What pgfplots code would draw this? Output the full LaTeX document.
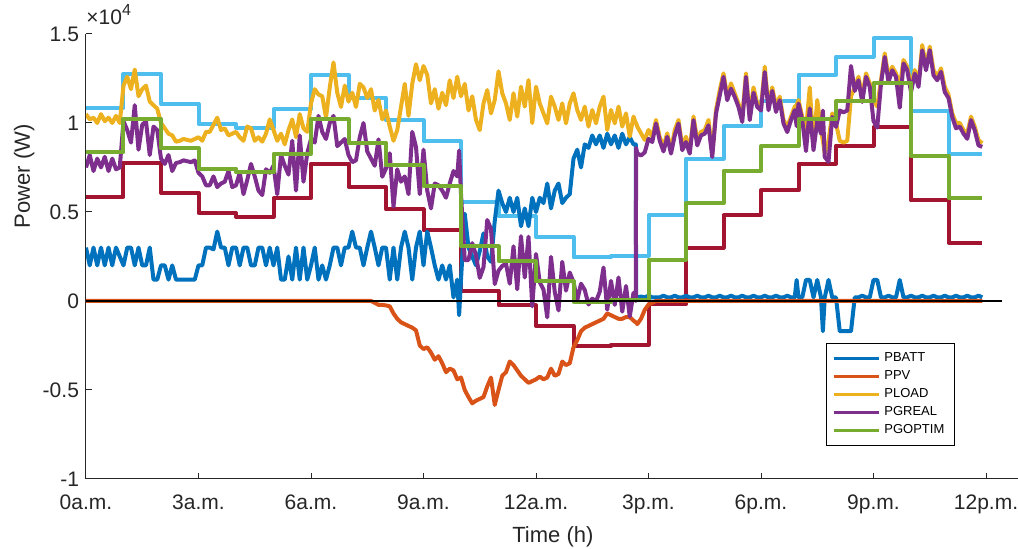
\documentclass[border=0pt]{standalone}
\usepackage{fontspec}
\setmainfont{Liberation Sans}
\usepackage{pgfplots}
\pgfplotsset{compat=1.18}
\usepackage{pgfplotstable}

\definecolor{cBatt}{RGB}{0,114,189}
\definecolor{cPV}{RGB}{217,83,25}
\definecolor{cLoad}{RGB}{237,177,32}
\definecolor{cGreal}{RGB}{126,47,142}
\definecolor{cGopt}{RGB}{119,172,48}
\definecolor{cLB}{RGB}{77,190,238}
\definecolor{cRed}{RGB}{162,20,47}
\definecolor{axisgray}{RGB}{38,38,38}

\pgfplotstableread{
h batt pv load greal
0.0 0.30 0 1.05 0.75
0.1 0.20 0 1.02 0.82
0.2 0.30 0 1.03 0.73
0.3 0.20 0 1.00 0.80
0.4 0.30 0 1.05 0.75
0.5 0.20 0 1.01 0.81
0.6 0.30 0 1.03 0.73
0.7 0.20 0 1.00 0.80
0.8 0.30 0 1.04 0.74
0.9 0.25 0 1.00 0.75
1.0 0.20 0 1.21 1.01
1.1 0.30 0 1.26 0.96
1.2 0.30 0 1.19 0.89
1.3 0.20 0 1.30 1.10
1.4 0.30 0 1.15 0.85
1.5 0.20 0 1.19 0.99
1.6 0.20 0 1.21 1.01
1.7 0.30 0 1.12 0.82
1.8 0.12 0 1.10 0.98
1.9 0.12 0 1.08 0.96
2.0 0.20 0 1.00 0.80
2.1 0.20 0 0.97 0.77
2.2 0.12 0 0.94 0.82
2.3 0.20 0 0.93 0.73
2.4 0.12 0 0.895 0.775
2.5 0.12 0 0.90 0.78
2.6 0.12 0 0.91 0.79
2.7 0.12 0 0.905 0.785
2.8 0.12 0 0.90 0.78
2.9 0.12 0 0.91 0.79
3.0 0.20 0 0.92 0.72
3.1 0.20 0 0.90 0.70
3.2 0.30 0 0.95 0.65
3.3 0.30 0 0.95 0.65
3.4 0.29 0 0.99 0.70
3.5 0.39 0 1.03 0.64
3.6 0.30 0 0.96 0.66
3.7 0.30 0 0.97 0.67
3.8 0.20 0 0.93 0.73
3.9 0.30 0 0.94 0.64
4.0 0.30 0 0.95 0.65
4.1 0.20 0 0.92 0.72
4.2 0.30 0 0.90 0.60
4.3 0.30 0 0.98 0.68
4.4 0.20 0 0.97 0.77
4.5 0.20 0 0.90 0.70
4.6 0.30 0 0.92 0.62
4.7 0.30 0 0.895 0.595
4.8 0.20 0 0.94 0.74
4.9 0.30 0 1.02 0.72
5.0 0.20 0 0.96 0.76
5.1 0.30 0 0.90 0.60
5.2 0.12 0 0.94 0.82
5.3 0.12 0 0.88 0.76
5.4 0.25 0 0.96 0.71
5.5 0.12 0 1.02 0.90
5.6 0.30 0 0.92 0.62
5.7 0.12 0 1.05 0.93
5.8 0.30 0 0.97 0.67
5.9 0.12 0 0.95 0.83
6.0 0.20 0 1.11 0.91
6.1 0.30 0 1.19 0.89
6.2 0.12 0 1.16 1.04
6.3 0.20 0 1.15 0.95
6.4 0.12 0 1.03 0.91
6.5 0.20 0 1.20 1.00
6.6 0.30 0 1.34 1.04
6.7 0.30 0 1.17 0.87
6.8 0.20 0 1.09 0.89
6.9 0.30 0 1.21 0.91
7.0 0.30 0 1.12 0.82
7.1 0.39 0 1.17 0.78
7.2 0.30 0 1.09 0.79
7.3 0.30 0 1.22 0.92
7.4 0.20 0 1.20 1.00
7.5 0.30 0 1.14 0.84
7.6 0.39 0 1.19 0.80
7.7 0.30 -0.01 1.07 0.76
7.8 0.20 -0.022 1.13 0.908
7.9 0.30 -0.022 1.02 0.698
8.0 0.30 -0.025 1.07 0.745
8.1 0.12 -0.03 0.98 0.83
8.2 0.30 -0.07 0.90 0.53
8.3 0.12 -0.10 0.96 0.74
8.4 0.30 -0.12 1.09 0.67
8.5 0.39 -0.13 1.22 0.70
8.6 0.30 -0.14 1.04 0.60
8.7 0.12 -0.15 1.22 0.95
8.8 0.30 -0.165 1.33 0.865
8.9 0.39 -0.25 1.24 0.60
9.0 0.20 -0.27 1.32 0.85
9.1 0.39 -0.26 1.27 0.62
9.2 0.30 -0.29 1.11 0.52
9.3 0.20 -0.33 1.19 0.66
9.4 0.12 -0.31 1.08 0.65
9.5 0.20 -0.35 1.17 0.62
9.6 0.12 -0.40 1.10 0.58
9.7 0.20 -0.38 1.24 0.66
9.8 0.02 -0.39 1.14 0.73
9.9 0.12 -0.44 1.26 0.70
9.95 -0.08 -0.435 1.20 0.845
10.0 0.12 -0.43 1.15 0.60
10.1 0.49 -0.50 1.22 0.23
10.2 0.30 -0.54 1.07 0.23
10.3 0.25 -0.575 1.15 0.325
10.4 0.20 -0.56 1.017 0.257
10.5 0.28 -0.55 0.96 0.13
10.6 0.38 -0.54 1.11 0.19
10.7 0.25 -0.48 1.185 0.455
10.8 0.22 -0.43 1.054 0.404
10.9 0.45 -0.584 1.129 0.095
11.0 0.62 -0.50 1.29 0.17
11.1 0.55 -0.42 1.167 0.197
11.2 0.50 -0.40 1.11 0.21
11.3 0.58 -0.34 1.017 0.097
11.4 0.50 -0.36 1.167 0.307
11.5 0.58 -0.39 1.036 0.066
11.6 0.42 -0.42 1.204 0.364
11.7 0.52 -0.44 1.092 0.132
11.8 0.42 -0.46 1.241 0.361
11.9 0.58 -0.45 1.0 -0.03
12.0 0.50 -0.44 1.204 0.264
12.1 0.58 -0.425 1.11 0.105
12.2 0.55 -0.44 1.054 0.064
12.3 0.66 -0.43 0.998 -0.092
12.4 0.52 -0.38 1.148 0.248
12.5 0.62 -0.42 1.092 0.052
12.6 0.66 -0.41 1.017 -0.053
12.7 0.55 -0.34 1.11 0.22
12.8 0.58 -0.36 0.998 0.058
12.9 0.60 -0.35 1.11 0.16
13.0 0.80 -0.26 1.167 0.107
13.1 0.85 -0.22 1.073 0.003
13.2 0.75 -0.17 1.017 0.097
13.3 0.88 -0.15 1.092 0.062
13.4 0.86 -0.14 0.98 -0.02
13.5 0.93 -0.13 1.073 0.013
13.6 0.88 -0.12 0.998 -0.002
13.7 0.93 -0.11 1.092 0.052
13.8 0.86 -0.10 1.148 0.188
13.9 0.94 -0.07 0.961 -0.049
14.0 0.88 -0.08 1.073 0.113
14.1 0.93 -0.09 0.998 -0.022
14.2 0.86 -0.10 1.092 0.132
14.3 0.94 -0.10 0.98 -0.06
14.4 0.88 -0.09 1.054 0.084
14.5 0.92 -0.09 0.923 -0.087
14.6 0.88 -0.11 1.036 0.046
14.66 0.88 -0.12 1.0 0.0
14.67 0.02 -0.12 1.0 0.86
14.7 0.02 -0.13 0.98 0.83
14.8 0.025 -0.10 0.942 0.817
14.9 0.02 -0.05 0.905 0.835
15.0 0.03 -0.02 0.961 0.911
15.1 0.02 -0.01 0.923 0.893
15.2 0.02 0 1.017 0.997
15.3 0.02 0 0.92 0.90
15.4 0.03 0 0.87 0.84
15.5 0.02 0 0.942 0.922
15.6 0.02 0 0.848 0.828
15.7 0.03 0 0.96 0.93
15.8 0.02 0 1.017 0.997
15.9 0.02 0 0.867 0.847
16.0 0.03 0 0.923 0.893
16.1 0.02 0 0.848 0.828
16.2 0.02 0 1.036 1.016
16.3 0.03 0 0.904 0.874
16.4 0.02 0 0.95 0.93
16.5 0.02 0 0.96 0.94
16.6 0.03 0 1.017 0.987
16.7 0.02 0 0.829 0.809
16.8 0.02 0 1.073 1.053
16.9 0.03 0 1.185 1.155
17.0 0.02 0 1.279 1.259
17.1 0.02 0 1.148 1.128
17.2 0.03 0 1.223 1.193
17.3 0.02 0 1.166 1.146
17.4 0.02 0 1.11 1.09
17.5 0.03 0 1.036 1.006
17.6 0.02 0 1.279 1.259
17.7 0.02 0 1.036 1.016
17.8 0.03 0 1.20 1.17
17.9 0.02 0 1.11 1.09
18.0 0.02 0 1.09 1.07
18.1 0.03 0 1.316 1.286
18.2 0.02 0 1.092 1.072
18.3 0.02 0 1.20 1.18
18.4 0.03 0 1.092 1.062
18.5 0.02 0 1.148 1.128
18.6 0.02 0 1.017 0.997
18.7 0.03 0 0.979 0.949
18.8 0.02 0 1.036 1.016
18.9 0.02 0 1.092 1.072
18.95 0.118 0 1.10 0.982
19.0 0.02 0 1.129 1.109
19.1 0.02 0 1.036 1.016
19.2 0.118 0 0.96 0.842
19.3 0.118 0 1.20 1.082
19.4 0.02 0 0.867 0.847
19.5 0.118 0 1.129 1.011
19.6 0.02 0 0.96 0.94
19.65 -0.17 0 0.90 1.07
19.7 0.02 0 0.829 0.809
19.8 0.118 0 0.90 0.782
19.9 0.02 0 1.054 1.034
20.0 0.02 0 0.998 0.978
20.1 -0.17 0 0.90 1.07
20.2 -0.17 0 0.89 1.06
20.3 -0.17 0 0.90 1.07
20.4 -0.17 0 1.15 1.32
20.5 0.02 0 1.20 1.18
20.6 0.02 0 1.26 1.24
20.7 0.03 0 1.148 1.118
20.8 0.02 0 1.279 1.259
20.9 0.02 0 1.223 1.203
21.0 0.118 0 1.129 1.011
21.1 0.118 0 1.092 0.974
21.2 0.02 0 1.241 1.221
21.3 0.02 0 1.391 1.371
21.4 0.03 0 1.26 1.23
21.5 0.02 0 1.316 1.296
21.6 0.02 0 1.279 1.259
21.7 0.118 0 1.204 1.086
21.8 0.02 0 1.354 1.334
21.9 0.02 0 1.316 1.296
22.0 0.03 0 1.204 1.174
22.1 0.02 0 1.298 1.278
22.2 0.02 0 1.223 1.203
22.3 0.03 0 1.438 1.408
22.4 0.02 0 1.316 1.296
22.5 0.02 0 1.429 1.409
22.6 0.03 0 1.298 1.268
22.7 0.02 0 1.26 1.24
22.8 0.02 0 1.307 1.287
22.9 0.03 0 1.204 1.174
23.0 0.02 0 1.16 1.14
23.1 0.02 0 1.054 1.034
23.2 0.03 0 1.0 0.97
23.3 0.02 0 1.0 0.98
23.4 0.02 0 0.96 0.94
23.5 0.03 0 0.941 0.911
23.6 0.02 0 1.036 1.016
23.7 0.02 0 0.979 0.959
23.8 0.03 0 0.904 0.874
23.9 0.02 0 0.886 0.866
}\datatable

\begin{document}
\begin{tikzpicture}
\path[use as bounding box] (-43pt,-35pt) rectangle (466pt,239.5pt);
\begin{axis}[
  at={(0pt,0pt)}, anchor=south west, scale only axis,
  width=466.875pt, height=222.5pt,
  xmin=0, xmax=24.9, ymin=-1, ymax=1.5,
  axis x line*=bottom, axis y line*=left,
  axis line style={draw=axisgray, line width=0.5pt},
  tick align=inside, major tick length=3pt,
  tick style={draw=axisgray, line width=0.5pt},
  xtick={0,3,...,24},
  xticklabels={0a.m.,3a.m.,6a.m.,9a.m.,12a.m.,3p.m.,6p.m.,9p.m.,12p.m.},
  ytick={-1,-0.5,0,0.5,1,1.5},
  yticklabels={-1,-0.5,0,0.5,1,1.5},
  ticklabel style={font=\fontsize{10.5}{12}\selectfont, text=axisgray},
  xticklabel style={yshift=-4.5pt},
  xlabel={Time (h)}, ylabel={Power (W)},
  xlabel style={at={(axis description cs:0.5,0)}, anchor=base, yshift=-32pt, font=\fontsize{11}{13}\selectfont, text=axisgray},
  ylabel style={at={(axis description cs:-0.06,0.68)}, anchor=base, font=\fontsize{11}{13}\selectfont, text=axisgray},
  every axis plot/.append style={line join=round},
  legend style={at={(rel axis cs:0.7925,0.3056)}, anchor=north west,
    draw=black, line width=0.4pt, fill=white,
    font=\fontsize{6.5}{8}\selectfont, row sep=0pt,
    nodes={text height=4.9pt, text depth=1.4pt, inner ysep=1.35pt},
    inner xsep=3pt, inner ysep=3pt},
  legend cell align=left,
  legend image code/.code={\draw[#1, line width=1.5pt] (0pt,0pt) -- (22.5pt,0pt);},
]
\addplot[cLB, line width=2pt, const plot, forget plot] coordinates {
(0,1.086) (1,1.275) (2,1.107) (3,0.994) (4,0.973) (5,1.077) (6,1.272) (7,1.140)
(8,1.014) (9,0.896) (10,0.557) (11,0.475) (12,0.360) (13,0.245) (14,0.254)
(15,0.482) (16,0.800) (17,0.982) (18,1.121) (19,1.271) (20,1.373) (21,1.477)
(22,1.065) (23,0.828) (23.9,0.828)};
\addplot[cRed, line width=2pt, const plot, forget plot] coordinates {
(0,0.586) (1,0.775) (2,0.607) (3,0.494) (4,0.473) (5,0.577) (6,0.772) (7,0.640)
(8,0.514) (9,0.396) (10,0.057) (11,-0.025) (12,-0.140) (13,-0.255) (14,-0.246)
(15,-0.018) (16,0.300) (17,0.482) (18,0.621) (19,0.771) (20,0.873) (21,0.977)
(22,0.565) (23,0.328) (23.9,0.328)};
\addplot[cBatt, line width=2pt] table[x=h, y=batt] {\datatable};
\addlegendentry{PBATT}
\addplot[cPV, line width=2pt] table[x=h, y=pv] {\datatable};
\addlegendentry{PPV}
\addplot[cLoad, line width=2pt] table[x=h, y=load] {\datatable};
\addlegendentry{PLOAD}
\addplot[cGreal, line width=2pt] table[x=h, y=greal] {\datatable};
\addlegendentry{PGREAL}
\addplot[cGopt, line width=2pt, const plot] coordinates {
(0,0.836) (1,1.025) (2,0.857) (3,0.744) (4,0.723) (5,0.827) (6,1.022) (7,0.890)
(8,0.764) (9,0.646) (10,0.307) (11,0.225) (12,0.110) (13,-0.005) (14,0.004)
(15,0.232) (16,0.550) (17,0.732) (18,0.871) (19,1.021) (20,1.123) (21,1.227)
(22,0.815) (23,0.578) (23.9,0.578)};
\addlegendentry{PGOPTIM}
\draw[black, line width=0.6pt] (axis cs:0,0) -- (axis cs:24.43,0);
\end{axis}
\node[anchor=base west, font=\fontsize{10.5}{12}\selectfont, text=axisgray, inner sep=0pt] at (0pt,227pt) {×10\raisebox{0.45em}{\fontsize{8}{9}\selectfont 4}};
\end{tikzpicture}
\end{document}
